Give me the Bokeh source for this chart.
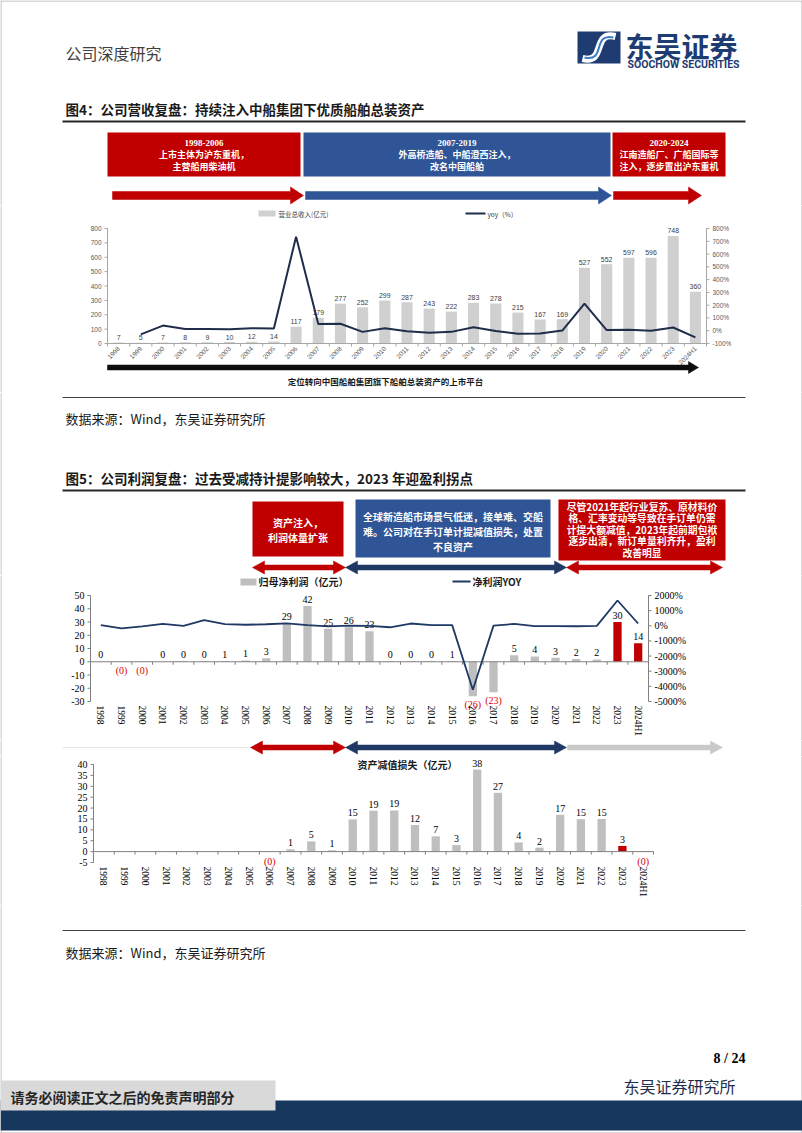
import numpy as np
from math import pi
from bokeh.plotting import figure
from bokeh.layouts import column
from bokeh.models import Range1d, ColumnDataSource
from bokeh.core.properties import value
from bokeh.embed import file_html
from bokeh.resources import INLINE

# ---------------- data ----------------
years = ["1998", "1999", "2000", "2001", "2002", "2003", "2004", "2005", "2006", "2007",
         "2008", "2009", "2010", "2011", "2012", "2013", "2014", "2015", "2016", "2017",
         "2018", "2019", "2020", "2021", "2022", "2023", "2024H1"]

revenue = [7, 5, 7, 8, 9, 10, 12, 14, 117, 179, 277, 252, 299, 287, 243, 222, 283, 278,
           215, 167, 169, 527, 552, 597, 596, 748, 360]
revenue_yoy = [np.nan, -29, 40, 14, 13, 11, 20, 17, 736, 53, 55, -9, 19, -4, -15, -9, 27, -2,
               -23, -22, 1, 212, 5, 8, 0, 25, -52]
revenue_ticks = [0, 100, 200, 300, 400, 500, 600, 700, 800]
revenue_yoy_ticks = [-100, 0, 100, 200, 300, 400, 500, 600, 700, 800]

net_profit = [0.2, -0.1, -0.1, 0.2, 0.3, 0.3, 0.6, 1.0, 2.6, 29, 42, 25, 26, 23, 0.3, 0.3,
              0.4, 0.6, -26, -23, 5.0, 4.0, 3.0, 2.0, 1.7, 30, 14]
net_profit_yoy = [44, -177, -44, 133, 0, 378, 111, 67, 100, 156, 45, -40, 4, -12, -98, 150,
                  44, 44, -4230, 12, 120, -20, -25, -30, -10, 1670, 150]
profit_ticks = [-30, -20, -10, 0, 10, 20, 30, 40, 50]
profit_yoy_ticks = [-5000, -4000, -3000, -2000, -1000, 0, 1000, 2000]

impairment = [np.nan] * 8 + [-0.1, 1.1, 4.7, 0.6, 14.8, 18.8, 18.9, 12.2, 7.0, 3.0, 37.7,
                             27.0, 4.2, 1.8, 16.9, 14.9, 15.0, 2.6, -0.1]
impairment_ticks = [-5, 0, 5, 10, 15, 20, 25, 30, 35, 40]

highlight_years = ["2023", "2024H1"]

fig4_boxes = [["1998-2006", "上市主体为沪东重机，", "主营船用柴油机"],
              ["2007-2019", "外高桥造船、中船澄西注入，", "改名中国船舶"],
              ["2020-2024", "江南造船厂、广船国际等", "注入，逐步置出沪东重机"]]
fig5_boxes = [["资产注入，", "利润体量扩张"],
              ["全球新造船市场景气低迷，接单难、交船", "难。公司对在手订单计提减值损失，处置", "不良资产"],
              ["尽管2021年起行业复苏、原材料价", "格、汇率变动等导致在手订单仍需", "计提大额减值，2023年起前期包袱",
               "逐步出清，新订单量利齐升，盈利", "改善明显"]]

# ---------------- helpers ----------------
CJK = "Noto Sans CJK SC"
SERIF = "Liberation Serif"
SANS = "Liberation Sans"
RED = "#c00000"
BLUE = "#2f5597"
NAVY = "#1f3864"
PW, PH = 802, 1133
N = len(years)
xc = [i + 0.5 for i in range(N)]
PXPY = dict(x_range_name="px", y_range_name="py")


def txt(p, x, y, s, size, color="#000000", font=CJK, bold=False, align="left",
        baseline="middle", angle=0.0, **kw):
    p.text(x=[x], y=[y], text=[s], text_font=value(font), text_font_size=value(f"{size}px"),
           text_color=color, text_font_style="bold" if bold else "normal",
           text_align=align, text_baseline=baseline, angle=angle, **kw)


def arrow(p, x0, x1, yc, t, hh, hl, color, left=False, right=True, **kw):
    pts = []
    if left:
        pts += [(x0, yc), (x0 + hl, yc - hh / 2), (x0 + hl, yc - t / 2)]
    else:
        pts += [(x0, yc - t / 2)]
    if right:
        pts += [(x1 - hl, yc - t / 2), (x1 - hl, yc - hh / 2), (x1, yc),
                (x1 - hl, yc + hh / 2), (x1 - hl, yc + t / 2)]
    else:
        pts += [(x1, yc - t / 2), (x1, yc + t / 2)]
    if left:
        pts += [(x0 + hl, yc + t / 2), (x0 + hl, yc + hh / 2)]
    else:
        pts += [(x0, yc + t / 2)]
    p.patch(x=[a for a, b in pts], y=[b for a, b in pts], fill_color=color,
            line_color=color, line_width=0.5, **kw)


def new_fig(h, xr, yr):
    p = figure(width=PW, height=h, x_range=xr, y_range=yr, x_axis_type=None, y_axis_type=None,
               output_backend="svg", toolbar_location=None, tools="",
               min_border_left=0, min_border_right=0, min_border_top=0, min_border_bottom=0)
    p.outline_line_color = None
    p.background_fill_color = "white"
    p.border_fill_color = "white"
    return p


def edges(p, top, bot, **kw):
    p.segment(x0=[0.5, PW - 0.5], y0=[top, top], x1=[0.5, PW - 0.5], y1=[bot, bot],
              line_color="#b4b4b4", line_width=1, **kw)


def band(y0, y1):
    p = new_fig(y1 - y0, Range1d(0, PW), Range1d(y1, y0))
    edges(p, y0, y1)
    return p


def vrange(v_lo, py_lo, v_hi, py_hi, top, bot):
    k = (py_lo - py_hi) / (v_hi - v_lo)
    return Range1d(v_lo - (bot - py_lo) / k, v_hi + (py_hi - top) / k), k


def chart(top, bot, fx0, fx1, left):
    yr, k = vrange(*left, top, bot)
    bw = (fx1 - fx0) / N
    xr = Range1d(-fx0 / bw, N + (PW - fx1) / bw)
    p = new_fig(bot - top, xr, yr)
    p.extra_x_ranges = {"px": Range1d(0, PW)}
    p.extra_y_ranges = {"py": Range1d(bot, top)}
    edges(p, top, bot, **PXPY)
    return p, k


def yaxis(p, ticks, x, side, fmt, font, size, color, line_color, rname="default"):
    n = len(ticks)
    d = -3 if side == "left" else 3
    rn = dict(x_range_name="px", y_range_name=rname)
    p.segment(x0=[x], y0=[min(ticks)], x1=[x], y1=[max(ticks)], line_color=line_color,
              line_width=1, **rn)
    p.segment(x0=[x] * n, y0=ticks, x1=[x + d] * n, y1=ticks, line_color=line_color,
              line_width=1, **rn)
    p.text(x=[x + 2 * d] * n, y=ticks, text=[fmt % t for t in ticks],
           text_align="right" if side == "left" else "left", text_baseline="middle",
           text_font=value(font), text_font_size=value(size), text_color=color, **rn)


def xbase(p, k, color):
    p.segment(x0=[0], y0=[0], x1=[N], y1=[0], line_color=color, line_width=1)
    p.segment(x0=list(range(N + 1)), y0=[0] * (N + 1), x1=list(range(N + 1)),
              y1=[-3 / k] * (N + 1), line_color=color, line_width=1)


def fmt_label(v):
    return f"({abs(round(v))})" if v < 0 else f"{round(v)}"


# ---------------- band 1: header + fig4 title + boxes ----------------
b1 = band(0, 205)
b1.segment(x0=[0], y0=[0.5], x1=[PW], y1=[0.5], line_color="#b4b4b4", line_width=1)
txt(b1, 65, 52, "公司深度研究", 16, "#404040")
b1.quad(left=[577], right=[620], top=[31], bottom=[63], fill_color="#1e3c72", line_color=None)
b1.bezier(x0=[582], y0=[58], x1=[615], y1=[36], cx0=[606], cy0=[64], cx1=[591], cy1=[30],
          line_color="white", line_width=7)
b1.bezier(x0=[584], y0=[57], x1=[613], y1=[37], cx0=[606], cy0=[62], cx1=[591], cy1=[32],
          line_color="#3b7dc4", line_width=2)
txt(b1, 625, 45, "东吴证券", 28, "#1e3c72", bold=True)
txt(b1, 627, 64, "SOOCHOW SECURITIES", 10.5, "#1e3c72", font="Roboto", bold=True)
txt(b1, 65, 108, "图4：公司营收复盘：持续注入中船集团下优质船舶总装资产", 13.5, "#1a1a1a", bold=True)
b1.segment(x0=[62], y0=[121], x1=[745], y1=[121], line_color="#262626", line_width=2)

box4 = [(107, 300, RED), (303, 610, BLUE), (612, 725, RED)]
for (l, r, c), lines in zip(box4, fig4_boxes):
    b1.quad(left=[l], right=[r], top=[132], bottom=[176], fill_color=c, line_color=None)
    cx = (l + r) / 2
    for j, s in enumerate(lines):
        f = SERIF if j == 0 else CJK
        txt(b1, cx, 142 + 12 * j, s, 9, "white", font=f, bold=True, align="center")
arrow(b1, 112, 303, 195, 8, 17, 13, RED)
arrow(b1, 305, 611, 195, 8, 17, 13, BLUE)
arrow(b1, 613, 701, 195, 8, 17, 13, RED)

# ---------------- band 2: fig4 chart ----------------
p4, k4 = chart(205, 392, 107, 706, (0, 343, 800, 228))
yr_r, k4r = vrange(-100, 343, 800, 228, 205, 392)
p4.extra_y_ranges["r"] = yr_r
yaxis(p4, revenue_ticks, 107, "left", "%d", SANS, "6.5px", "#595959", "#a6a6a6")
yaxis(p4, revenue_yoy_ticks, 706, "right", "%d%%", SANS, "6.5px", "#595959", "#a6a6a6", "r")

src4 = ColumnDataSource(dict(x=xc, top=revenue, label=[fmt_label(v) for v in revenue],
                             ly=[v + 2.5 / k4 for v in revenue]))
p4.vbar(x="x", top="top", width=0.5, fill_color="#d0d0d0", line_color=None, source=src4)
xbase(p4, k4, "#a6a6a6")
p4.text(x="x", y="ly", text="label", source=src4, text_align="center", text_baseline="bottom",
        text_font=value(SANS), text_font_size=value("7px"), text_color="#404040")
p4.line(x=xc, y=np.array(revenue_yoy, dtype=float), y_range_name="r", line_color="#1f2d4a",
        line_width=2)
p4.text(x=xc, y=[-4 / k4] * N, text=years, angle=pi / 4, text_align="right",
        text_baseline="middle", text_font=value(SANS), text_font_size=value("6.5px"),
        text_color="#595959")
p4.quad(left=[258], right=[275], top=[210], bottom=[216], fill_color="#d0d0d0", line_color=None, **PXPY)
txt(p4, 278, 213, "营业总收入(亿元)", 6.5, "#404040", **PXPY)
p4.segment(x0=[465], y0=[213], x1=[485], y1=[213], line_color="#1f2d4a", line_width=2, **PXPY)
txt(p4, 487, 213, "yoy（%）", 6.5, "#404040", **PXPY)
arrow(p4, 107, 698, 367, 5, 12, 10, "#0d0d0d", **PXPY)
txt(p4, 385, 380, "定位转向中国船舶集团旗下船舶总装资产的上市平台", 8.5, "#1a1a1a", bold=True,
    align="center", **PXPY)

# ---------------- band 3: source + fig5 title + boxes ----------------
b3 = band(392, 575)
b3.segment(x0=[62], y0=[397], x1=[745], y1=[397], line_color="#404040", line_width=1)
txt(b3, 65, 418, "数据来源：Wind，东吴证券研究所", 13, "#1a1a1a")
txt(b3, 65, 477, "图5：公司利润复盘：过去受减持计提影响较大，2023 年迎盈利拐点", 13.5, "#1a1a1a", bold=True)
b3.segment(x0=[62], y0=[490], x1=[745], y1=[490], line_color="#262626", line_width=2)

box5 = [(252, 343, 501, 556, RED, 522, 15, 10),
        (355, 550, 499, 557, BLUE, 516, 15, 10),
        (558, 725, 499, 560, RED, 506, 11.5, 9.8)]
for (l, r, t, b, c, y0, dy, fs), lines in zip(box5, fig5_boxes):
    b3.quad(left=[l], right=[r], top=[t], bottom=[b], fill_color=c, line_color=None)
    for j, s in enumerate(lines):
        txt(b3, (l + r) / 2, y0 + dy * j, s, fs, "white", bold=True, align="center")
arrow(b3, 252, 345, 567, 5, 13, 12, RED, left=True)
arrow(b3, 345, 566, 567, 5, 13, 12, NAVY, left=True)
arrow(b3, 566, 722, 567, 5, 13, 12, RED, left=True)

# ---------------- band 4: net profit chart ----------------
p5, k5 = chart(575, 740, 90, 648, (-30, 701, 50, 595))
yr5r, k5r = vrange(-5000, 701, 2000, 595, 575, 740)
p5.extra_y_ranges["r"] = yr5r
yaxis(p5, profit_ticks, 90, "left", "%d", SERIF, "10px", "#000000", "#808080")
yaxis(p5, profit_yoy_ticks, 648, "right", "%d%%", SERIF, "10px", "#000000", "#808080", "r")

src5 = ColumnDataSource(dict(
    x=xc, top=net_profit,
    color=[RED if y in highlight_years else "#bfbfbf" for y in years],
    label=[fmt_label(v) for v in net_profit],
    lc=["#e00000" if v < 0 else "#000000" for v in net_profit],
    ly=[v + 3 / k5 if v >= 0 else v - 3 / k5 for v in net_profit],
    lb=["bottom" if v >= 0 else "top" for v in net_profit]))
p5.vbar(x="x", top="top", width=0.4, fill_color="color", line_color=None, source=src5)
xbase(p5, k5, "#808080")
p5.text(x="x", y="ly", text="label", source=src5, text_align="center", text_baseline="lb",
        text_font=value(SERIF), text_font_size=value("10px"), text_color="lc")
p5.line(x=xc, y=net_profit_yoy, y_range_name="r", line_color=NAVY, line_width=1.8)
p5.text(x=xc, y=[min(profit_ticks) - 4 / k5] * N, text=years, angle=-pi / 2, text_align="left",
        text_baseline="middle", text_font=value(SERIF), text_font_size=value("9.5px"),
        text_color="#000000")
p5.quad(left=[240], right=[256], top=[578], bottom=[585], fill_color="#bfbfbf", line_color=None, **PXPY)
txt(p5, 258, 581, "归母净利润（亿元）", 10, "#1a1a1a", bold=True, **PXPY)
p5.segment(x0=[452], y0=[581], x1=[470], y1=[581], line_color=NAVY, line_width=2, **PXPY)
txt(p5, 472, 581, "净利润YOY", 10, "#1a1a1a", bold=True, **PXPY)

# ---------------- band 5: arrows ----------------
b5 = band(740, 756)
b5.segment(x0=[62], y0=[747], x1=[250], y1=[747], line_color="#e6e6e6", line_width=1)
arrow(b5, 250, 345, 747, 5, 13, 12, RED, left=True)
arrow(b5, 345, 566, 747, 5, 13, 12, NAVY, left=True)
arrow(b5, 567, 722, 747, 5, 13, 12, "#c9c9c9")

# ---------------- band 6: impairment chart ----------------
p6, k6 = chart(756, 905, 93, 653, (-5, 862, 40, 764))
yaxis(p6, impairment_ticks, 93, "left", "%d", SERIF, "10px", "#000000", "#808080")
valid = [i for i, v in enumerate(impairment) if not np.isnan(v)]
src6 = ColumnDataSource(dict(
    x=[xc[i] for i in valid], top=[impairment[i] for i in valid],
    color=[RED if years[i] in highlight_years else "#bfbfbf" for i in valid],
    label=[fmt_label(impairment[i]) for i in valid],
    lc=["#e00000" if impairment[i] < 0 else "#000000" for i in valid],
    ly=[impairment[i] + 3 / k6 if impairment[i] >= 0 else impairment[i] - 4 / k6 for i in valid],
    lb=["bottom" if impairment[i] >= 0 else "top" for i in valid]))
p6.vbar(x="x", top="top", width=0.4, fill_color="color", line_color=None, source=src6)
xbase(p6, k6, "#808080")
p6.text(x="x", y="ly", text="label", source=src6, text_align="center", text_baseline="lb",
        text_font=value(SERIF), text_font_size=value("10px"), text_color="lc")
p6.text(x=xc, y=[min(impairment_ticks) - 4 / k6] * N, text=years, angle=-pi / 2,
        text_align="left", text_baseline="middle", text_font=value(SERIF),
        text_font_size=value("9.5px"), text_color="#000000")
txt(p6, 357, 764, "资产减值损失（亿元）", 10, "#1a1a1a", bold=True, **PXPY)

# ---------------- band 7: source + footer ----------------
b7 = band(905, PH)
b7.segment(x0=[62], y0=[930], x1=[745], y1=[930], line_color="#404040", line_width=1)
txt(b7, 65, 952, "数据来源：Wind，东吴证券研究所", 13, "#1a1a1a")
txt(b7, 745, 1058, "8 / 24", 14, "#000000", font=SERIF, bold=True, align="right")
txt(b7, 735, 1085, "东吴证券研究所", 16, "#1f2d4d", align="right")
b7.quad(left=[0], right=[PW], top=[1100], bottom=[1130], fill_color="#17375e", line_color=None)
b7.quad(left=[0], right=[275], top=[1080], bottom=[1110], fill_color="#d9d9d9", line_color=None)
txt(b7, 10, 1096, "请务必阅读正文之后的免责声明部分", 14, "#262626", bold=True)
b7.segment(x0=[0], y0=[PH - 0.5], x1=[PW], y1=[PH - 0.5], line_color="#b4b4b4", line_width=1)

layout = column(b1, p4, b3, p5, b5, p6, b7, spacing=0)
open("out.html", "w").write(file_html(layout, INLINE))
